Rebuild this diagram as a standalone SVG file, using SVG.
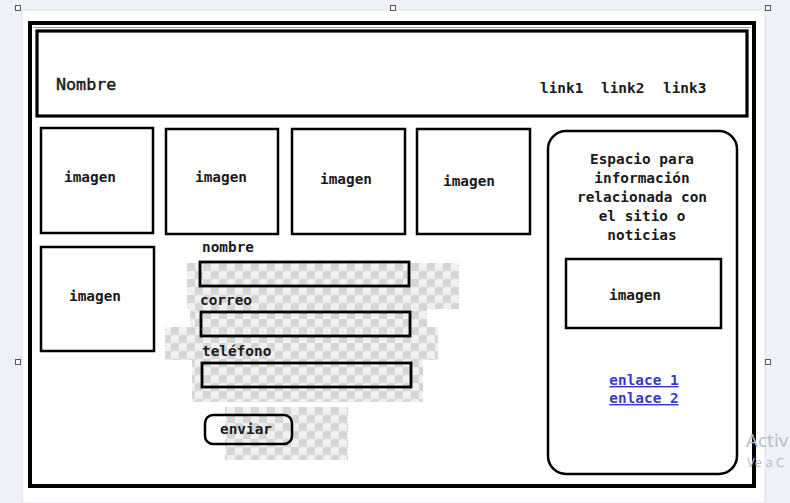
<svg xmlns="http://www.w3.org/2000/svg" width="790" height="503" viewBox="0 0 790 503">
  <defs>
    <pattern id="checker" x="187" y="263" width="16" height="16" patternUnits="userSpaceOnUse">
      <rect width="16" height="16" fill="#f0f0f0"/>
      <rect width="8" height="8" fill="#d6d6d6"/>
      <rect x="8" y="8" width="8" height="8" fill="#d6d6d6"/>
    </pattern>
  </defs>
  <style>
    .t { font-family: "DejaVu Sans Mono", "Liberation Mono", monospace; font-size: 14.4px; font-weight: bold; fill: #1a1a1a; }
    .c { text-anchor: middle; }
    .box { fill: #ffffff; stroke: #000; stroke-width: 2.5; }
    .inp { fill: none; stroke: #000; stroke-width: 2.8; }
    .lnk { font-family: "DejaVu Sans Mono", "Liberation Mono", monospace; font-size: 14.4px; font-weight: bold; fill: #3a3ac8; text-decoration: underline; text-anchor: middle; }
    .handle { fill: #fff; stroke: #555; stroke-width: 1; }
    .wm { font-family: "Open Sans", "Noto Sans", sans-serif; fill: #b9bdc6; }
  </style>

  <!-- canvas background -->
  <rect width="790" height="503" fill="#eef1f8"/>
  <rect x="22" y="10" width="743" height="493" fill="#ffffff" stroke="#dde1ea" stroke-width="1"/>

  <!-- outer frame -->
  <g id="frame">
    <rect x="30" y="23" width="724" height="463" fill="#fff" stroke="#000" stroke-width="4"/>
    <line x1="33" y1="27.5" x2="751" y2="27.5" stroke="#999" stroke-width="1"/>
  </g>

  <!-- header -->
  <g id="header">
    <rect x="37" y="31" width="710" height="85" fill="#fff" stroke="#000" stroke-width="3.2"/>
    <text x="56" y="90" style="font-family: 'DejaVu Sans Mono', 'Liberation Mono', monospace; font-size:16.7px; fill:#1a1a1a; stroke:#1a1a1a; stroke-width:0.45px;">Nombre</text>
    <text class="t" x="540" y="93">link1</text>
    <text class="t" x="601" y="93">link2</text>
    <text class="t" x="663" y="93">link3</text>
  </g>

  <!-- image boxes -->
  <g id="img1">
    <rect class="box" x="41" y="128" width="112" height="105"/>
    <text class="t" x="90" y="182" text-anchor="middle">imagen</text>
  </g>
  <g id="img2">
    <rect class="box" x="166" y="129" width="112" height="105"/>
    <text class="t" x="221" y="182" text-anchor="middle">imagen</text>
  </g>
  <g id="img3">
    <rect class="box" x="292" y="129" width="113" height="105"/>
    <text class="t" x="346" y="184" text-anchor="middle">imagen</text>
  </g>
  <g id="img4">
    <rect class="box" x="417" y="129" width="113" height="105"/>
    <text class="t" x="469" y="186" text-anchor="middle">imagen</text>
  </g>
  <g id="img5">
    <rect class="box" x="41" y="247" width="113" height="104"/>
    <text class="t" x="95" y="301" text-anchor="middle">imagen</text>
  </g>

  <!-- form -->
  <g id="form">
    <path fill="url(#checker)" d="M187,263 H459 V309 H427 V327 H438 V360 H423 V402 H192 V360 H165 V327 H190 V309 H187 Z"/>
    <rect fill="url(#checker)" x="225" y="407" width="123" height="53"/>
    <text class="t" x="202" y="252">nombre</text>
    <rect class="inp" x="200" y="262" width="209" height="24"/>
    <text class="t" x="200" y="305">correo</text>
    <rect class="inp" x="201" y="312" width="209" height="24"/>
    <text class="t" x="202" y="356">teléfono</text>
    <rect class="inp" x="202" y="363" width="209" height="24"/>
  </g>
  <g id="button">
    <rect x="205" y="415" width="87" height="29" rx="8" fill="none" stroke="#000" stroke-width="2.5"/>
    <text class="t" x="246" y="434" text-anchor="middle">enviar</text>
  </g>

  <!-- sidebar -->
  <g id="sidebar">
    <rect x="548" y="131" width="189" height="343" rx="18" fill="#fff" stroke="#000" stroke-width="2.5"/>
    <text class="t c" x="642" y="164">Espacio para</text>
    <text class="t c" x="642" y="183">información</text>
    <text class="t c" x="642" y="202">relacionada con</text>
    <text class="t c" x="642" y="221">el sitio o</text>
    <text class="t c" x="642" y="240">noticias</text>
  </g>
  <g id="sidebar-img">
    <rect class="box" x="566" y="259" width="155" height="69"/>
    <text class="t" x="635" y="300" text-anchor="middle">imagen</text>
  </g>
  <g id="sidebar-links">
    <text class="lnk" x="644" y="385">enlace 1</text>
    <text class="lnk" x="644" y="403">enlace 2</text>
  </g>

  <!-- connectors (none) -->
  <g id="connectors"></g>

  <!-- selection handles -->
  <g id="handles">
    <rect class="handle" x="15.5" y="5.5" width="5" height="5"/>
    <rect class="handle" x="390.5" y="5.5" width="5" height="5"/>
    <rect class="handle" x="765.5" y="5.5" width="5" height="5"/>
    <rect class="handle" x="15.5" y="359.5" width="5" height="5"/>
    <rect class="handle" x="765.5" y="359.5" width="5" height="5"/>
  </g>

  <!-- watermark -->
  <g id="watermark">
    <text class="wm" x="746" y="447" font-size="19">Activ</text>
    <text class="wm" x="747" y="467" font-size="13">Ve a C</text>
  </g>
</svg>
